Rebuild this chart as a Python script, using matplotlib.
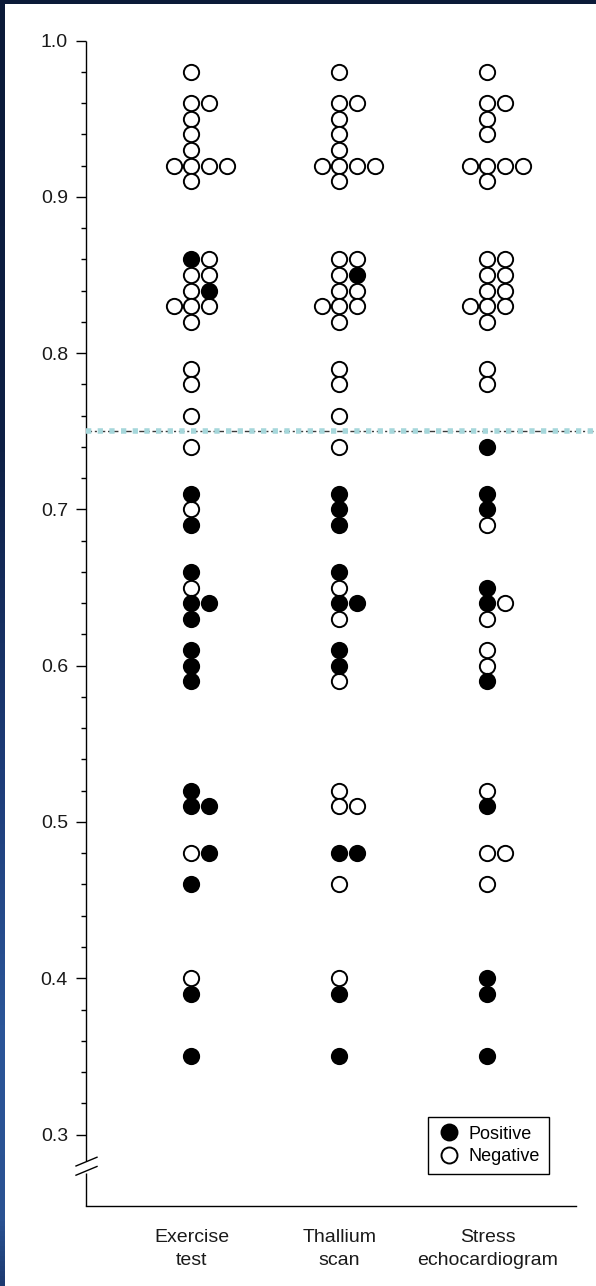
import numpy as np
import matplotlib
matplotlib.use("Agg")
import matplotlib.pyplot as plt
from matplotlib.lines import Line2D
from matplotlib.colors import LinearSegmentedColormap

plt.rcParams["font.family"] = ["Liberation Sans", "DejaVu Sans"]

TESTS = ["Exercise\ntest", "Thallium\nscan", "Stress\nechocardiogram"]

# score of each patient, with the test result (1 = positive, 0 = negative).
# tied scores are listed left to right as they sit side by side
exercise_val = [0.98, 0.96, 0.96, 0.95, 0.94, 0.93, 0.92, 0.92, 0.92, 0.92, 0.91,
                0.86, 0.86, 0.85, 0.85, 0.84, 0.84, 0.83, 0.83, 0.83, 0.82,
                0.79, 0.78, 0.76, 0.74, 0.71, 0.70, 0.69, 0.66, 0.65, 0.64, 0.64,
                0.63, 0.61, 0.60, 0.59, 0.52, 0.51, 0.51, 0.48, 0.48, 0.46,
                0.40, 0.39, 0.35]
exercise_pos = [0, 0, 0, 0, 0, 0, 0, 0, 0, 0, 0,
                1, 0, 0, 0, 0, 1, 0, 0, 0, 0,
                0, 0, 0, 0, 1, 0, 1, 1, 0, 1, 1,
                1, 1, 1, 1, 1, 1, 1, 0, 1, 1,
                0, 1, 1]

thallium_val = [0.98, 0.96, 0.96, 0.95, 0.94, 0.93, 0.92, 0.92, 0.92, 0.92, 0.91,
                0.86, 0.86, 0.85, 0.85, 0.84, 0.84, 0.83, 0.83, 0.83, 0.82,
                0.79, 0.78, 0.76, 0.74, 0.71, 0.70, 0.69, 0.66, 0.65, 0.64, 0.64,
                0.63, 0.61, 0.60, 0.59, 0.52, 0.51, 0.51, 0.48, 0.48, 0.46,
                0.40, 0.39, 0.35]
thallium_pos = [0, 0, 0, 0, 0, 0, 0, 0, 0, 0, 0,
                0, 0, 0, 1, 0, 0, 0, 0, 0, 0,
                0, 0, 0, 0, 1, 1, 1, 1, 0, 1, 1,
                0, 1, 1, 0, 0, 0, 0, 1, 1, 0,
                0, 1, 1]

stress_val = [0.98, 0.96, 0.96, 0.95, 0.94, 0.92, 0.92, 0.92, 0.92, 0.91,
              0.86, 0.86, 0.85, 0.85, 0.84, 0.84, 0.83, 0.83, 0.83, 0.82,
              0.79, 0.78, 0.74, 0.71, 0.70, 0.69, 0.65, 0.64, 0.64,
              0.63, 0.61, 0.60, 0.59, 0.52, 0.51, 0.48, 0.48, 0.46,
              0.40, 0.39, 0.35]
stress_pos = [0, 0, 0, 0, 0, 0, 0, 0, 0, 0,
              0, 0, 0, 0, 0, 0, 0, 0, 0, 0,
              0, 0, 1, 1, 1, 0, 1, 1, 0,
              0, 0, 0, 1, 0, 1, 0, 0, 0,
              1, 1, 1]

CUTOFF = 0.75
LANE_W = 0.12


def lanes(vals):
    """Side-by-side slot for tied scores: 0, +1 for pairs, centred for more."""
    vals = np.asarray(vals)
    out = []
    for i, v in enumerate(vals):
        same = list(np.flatnonzero(np.isclose(vals, v)))
        out.append(same.index(i) - (len(same) - 1) // 2)
    return np.array(out)


W, H, DPI = 596, 1286, 100
fig = plt.figure(figsize=(W / DPI, H / DPI), dpi=DPI)
fig.patch.set_facecolor("white")

# slide frame: navy strip on top, blue gradient down the left edge
top = fig.add_axes([0, 1 - 4 / H, 1, 4 / H])
top.set_axis_off()
top.add_patch(plt.Rectangle((0, 0), 1, 1, color="#0b1a38", transform=top.transAxes))
side = fig.add_axes([0, 0, 5 / W, 1])
side.set_axis_off()
cmap = LinearSegmentedColormap.from_list(
    "edge", [(0, "#0b1a38"), (0.35, "#0e2046"), (0.6, "#1d3c78"),
             (0.8, "#2b5598"), (0.95, "#2a5292"), (1, "#1c3a70")])
side.imshow(np.linspace(0, 1, 256)[:, None], aspect="auto", cmap=cmap,
            extent=(0, 1, 0, 1), origin="upper")

ax = fig.add_axes([86 / W, 1 - 1206 / H, 490 / W, (1206 - 40.5) / H])
ax.set_xlim(0.2872, 3.598)
ax.set_ylim(0.2543, 1.0)

MS, MEW = 11, 1.4
for col, (vals, pos) in enumerate([(exercise_val, exercise_pos),
                                   (thallium_val, thallium_pos),
                                   (stress_val, stress_pos)], start=1):
    v = np.asarray(vals)
    p = np.asarray(pos).astype(bool)
    x = col + lanes(v) * LANE_W
    ax.plot(x[~p], v[~p], "o", ms=MS, mfc="white", mec="black", mew=MEW,
            ls="none", zorder=3, clip_on=False)
    ax.plot(x[p], v[p], "o", ms=MS, mfc="black", mec="black", mew=MEW,
            ls="none", zorder=3, clip_on=False)

# cut-off line: dark dashes under light-blue squares
ax.plot([0.2872, 3.75], [CUTOFF, CUTOFF], color="#3a3a3a", lw=1.0,
        ls=(0, (4, 2, 1.5, 2)), zorder=2, clip_on=False)
ax.plot([0.2872, 3.75], [CUTOFF, CUTOFF], color="#a6d7db", lw=4.0,
        ls=(0, (0.95, 1.15)), zorder=2.5, clip_on=False)

# axes: left spine drawn by hand with a break near the bottom
for s in ("left", "top", "right"):
    ax.spines[s].set_visible(False)
ax.spines["bottom"].set_linewidth(1.0)
x0 = 0.2872
ax.plot([x0, x0], [1.0, 0.2833], color="black", lw=1.0, clip_on=False,
        solid_capstyle="butt")
ax.plot([x0, x0], [0.2754, 0.2543], color="black", lw=1.0, clip_on=False,
        solid_capstyle="butt")
ax.plot([0.2196, 0.3615], [0.2799, 0.2855], color="black", lw=1.0, clip_on=False)
ax.plot([0.2196, 0.3615], [0.2740, 0.2796], color="black", lw=1.0, clip_on=False)

major = np.round(np.arange(0.3, 1.0001, 0.1), 2)
minor = np.round(np.arange(0.32, 0.99, 0.02), 2)
ax.set_yticks(major)
ax.set_yticklabels([f"{t:.1f}" for t in major])
ax.set_yticks(minor, minor=True)
ax.tick_params(axis="y", which="major", length=7, width=1.0, pad=6,
               labelsize=14, labelcolor="#1a1a1a")
ax.tick_params(axis="y", which="minor", length=3.6, width=1.0)

ax.set_xticks([1, 2, 3])
ax.set_xticklabels(TESTS, linespacing=1.45)
ax.tick_params(axis="x", length=0, pad=16.5, labelsize=14, labelcolor="#1a1a1a")

handles = [Line2D([], [], marker="o", ls="none", ms=11.5, mfc="black", mec="black",
                  mew=1.4, label="Positive"),
           Line2D([], [], marker="o", ls="none", ms=11.5, mfc="white", mec="black",
                  mew=1.4, label="Negative")]
leg = ax.legend(handles=handles, loc="lower right",
                bbox_to_anchor=(549 / W, 1 - 1174 / H), bbox_transform=fig.transFigure,
                frameon=True, fancybox=False, framealpha=1, edgecolor="black",
                fontsize=13, borderpad=0.5, handletextpad=0.45, labelspacing=0.3,
                handlelength=1.3, borderaxespad=0)
leg.get_frame().set_linewidth(1.0)

fig.savefig("out.png", dpi=DPI)
